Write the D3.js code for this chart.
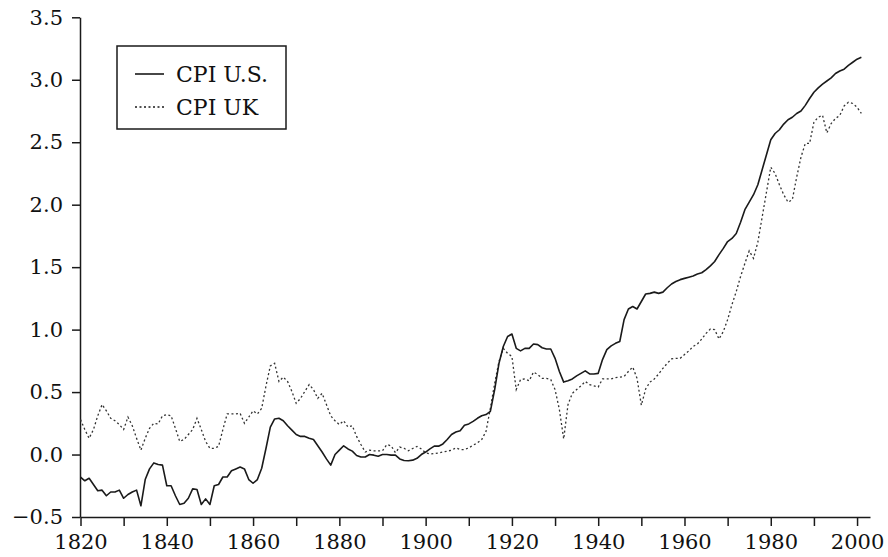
<!DOCTYPE html>
<html>
<head>
<meta charset="utf-8">
<script src="https://cdn.jsdelivr.net/npm/d3@7"></script>
<style>
  body { margin: 0; background: #fff; }
  .axis text { font-family: "DejaVu Serif", serif; font-size: 21px; fill: #111; }
  .axis path, .axis line { stroke: #1a1a1a; stroke-width: 1.5px; }
  .legendText { font-family: "DejaVu Serif", serif; font-size: 22px; fill: #111; }
</style>
</head>
<body>
<div id="chart"></div>
<script>
// CPI U.S. vs CPI UK (log scale), 1820-2001

var startYear = 1820;

// values, one per year starting 1820
var cpiUS = [
  -0.18, -0.21, -0.19, -0.24, -0.29, -0.285, -0.33, -0.30, -0.30, -0.285,
  -0.35, -0.32, -0.30, -0.285, -0.41, -0.20, -0.115, -0.067, -0.08, -0.085,
  -0.25, -0.25, -0.33, -0.40, -0.39, -0.35, -0.275, -0.28, -0.40, -0.355,
  -0.40, -0.25, -0.24, -0.18, -0.18, -0.13, -0.115, -0.10, -0.115, -0.20,
  -0.23, -0.20, -0.11, 0.05, 0.22, 0.285, 0.29, 0.27, 0.23, 0.195,
  0.16, 0.145, 0.145, 0.13, 0.12, 0.07, 0.02, -0.035, -0.085, 0.0,
  0.035, 0.07, 0.045, 0.027, -0.008, -0.02, -0.02, 0.0, -0.005, -0.013,
  0.0, 0.0, -0.005, -0.005, -0.035, -0.048, -0.05, -0.045, -0.03, 0.0,
  0.02, 0.045, 0.067, 0.067, 0.085, 0.12, 0.16, 0.18, 0.19, 0.235,
  0.245, 0.265, 0.29, 0.31, 0.32, 0.345, 0.52, 0.73, 0.865, 0.945,
  0.965, 0.85, 0.83, 0.85, 0.85, 0.885, 0.88, 0.855, 0.845, 0.845,
  0.77, 0.665, 0.58, 0.59, 0.605, 0.63, 0.65, 0.67, 0.645, 0.645,
  0.65, 0.76, 0.84, 0.87, 0.89, 0.905, 1.08, 1.165, 1.185, 1.165,
  1.225, 1.285, 1.29, 1.30, 1.29, 1.30, 1.335, 1.365, 1.385, 1.40,
  1.41, 1.42, 1.43, 1.445, 1.455, 1.48, 1.51, 1.545, 1.60, 1.65,
  1.705, 1.73, 1.77, 1.86, 1.96, 2.02, 2.08, 2.16, 2.28, 2.40,
  2.52, 2.57, 2.60, 2.645, 2.68, 2.70, 2.73, 2.75, 2.795, 2.85,
  2.90, 2.935, 2.965, 2.99, 3.015, 3.05, 3.07, 3.085, 3.115, 3.14,
  3.165, 3.18
];

var cpiUK = [
  0.28, 0.20, 0.13, 0.20, 0.31, 0.40, 0.35, 0.29, 0.27, 0.24,
  0.20, 0.30, 0.23, 0.13, 0.035, 0.13, 0.21, 0.25, 0.245, 0.31,
  0.32, 0.31, 0.21, 0.105, 0.12, 0.16, 0.20, 0.29, 0.20, 0.105,
  0.05, 0.05, 0.065, 0.20, 0.325, 0.325, 0.325, 0.33, 0.25, 0.30,
  0.35, 0.325, 0.37, 0.55, 0.71, 0.73, 0.585, 0.62, 0.585, 0.505,
  0.41, 0.45, 0.505, 0.56, 0.52, 0.45, 0.49, 0.40, 0.31, 0.27,
  0.24, 0.27, 0.22, 0.23, 0.145, 0.08, 0.02, 0.035, 0.03, 0.03,
  0.03, 0.08, 0.07, 0.015, 0.06, 0.05, 0.03, 0.048, 0.065, 0.045,
  0.013, 0.005, 0.008, 0.013, 0.02, 0.027, 0.035, 0.053, 0.04, 0.04,
  0.053, 0.075, 0.093, 0.12, 0.186, 0.37, 0.57, 0.745, 0.85, 0.81,
  0.785, 0.52, 0.60, 0.605, 0.59, 0.66, 0.64, 0.61, 0.61, 0.60,
  0.52, 0.36, 0.125, 0.40, 0.49, 0.52, 0.55, 0.585, 0.56, 0.55,
  0.54, 0.605, 0.605, 0.605, 0.615, 0.62, 0.625, 0.665, 0.70, 0.61,
  0.395, 0.525, 0.58, 0.605, 0.645, 0.69, 0.73, 0.765, 0.77, 0.77,
  0.80, 0.83, 0.865, 0.885, 0.925, 0.97, 1.005, 1.0, 0.925, 0.985,
  1.08, 1.20, 1.305, 1.425, 1.53, 1.63, 1.57, 1.70, 1.90, 2.10,
  2.30, 2.25, 2.16, 2.08, 2.02, 2.04, 2.22, 2.38, 2.49, 2.49,
  2.66, 2.70, 2.715, 2.575, 2.65, 2.69, 2.715, 2.79, 2.82, 2.81,
  2.78, 2.73
];

var seriesNames = ["CPI U.S.", "CPI UK"];
var xTickValues = d3.range(1820, 2001, 10);
var xLabelValues = d3.range(1820, 2001, 20);
var yTickValues = [-0.5, 0.0, 0.5, 1.0, 1.5, 2.0, 2.5, 3.0, 3.5];

// Set Chart Area
var svgWidth = 888;
var svgHeight = 557;

var svg = d3.select("#chart")
  .append("svg")
  .attr("width", svgWidth)
  .attr("height", svgHeight);

// scales
var xScale = d3.scaleLinear()
  .domain([1820, 2003])
  .range([80.5, 870]);

var yScale = d3.scaleLinear()
  .domain([-0.5, 3.5])
  .range([517, 17.3]);

// axes
var bottomAxis = d3.axisBottom(xScale)
  .tickValues(xTickValues)
  .tickSize(9)
  .tickSizeOuter(0)
  .tickPadding(8)
  .tickFormat(d => xLabelValues.indexOf(d) >= 0 ? d : "");

var leftAxis = d3.axisLeft(yScale)
  .tickValues(yTickValues)
  .tickSize(8)
  .tickSizeOuter(0)
  .tickPadding(9)
  .tickFormat(d3.format(".1f"));

svg.append("g")
  .attr("class", "axis")
  .attr("transform", "translate(0, 517)")
  .call(bottomAxis);

svg.append("g")
  .attr("class", "axis")
  .attr("transform", "translate(80, 0)")
  .call(leftAxis);

// lines
var line = d3.line()
  .x((d, i) => xScale(startYear + i))
  .y(d => yScale(d));

svg.append("path")
  .datum(cpiUK)
  .attr("d", line)
  .attr("fill", "none")
  .attr("stroke", "#333")
  .attr("stroke-width", 1.3)
  .attr("stroke-dasharray", "2,2.5");

svg.append("path")
  .datum(cpiUS)
  .attr("d", line)
  .attr("fill", "none")
  .attr("stroke", "#1a1a1a")
  .attr("stroke-width", 1.6)
  .attr("stroke-linejoin", "round");

// legend
var legend = svg.append("g");

legend.append("rect")
  .attr("x", 117)
  .attr("y", 46)
  .attr("width", 169)
  .attr("height", 83)
  .attr("fill", "#fff")
  .attr("stroke", "#1a1a1a")
  .attr("stroke-width", 1.5);

var legendDash = [null, "2,2.5"];

seriesNames.forEach(function(name, i) {
  var ly = 74 + i * 33;
  legend.append("line")
    .attr("x1", 135)
    .attr("x2", 164)
    .attr("y1", ly)
    .attr("y2", ly)
    .attr("stroke", "#1a1a1a")
    .attr("stroke-width", i == 0 ? 1.6 : 1.3)
    .attr("stroke-dasharray", legendDash[i]);

  legend.append("text")
    .attr("class", "legendText")
    .attr("x", 176)
    .attr("y", ly + 7.5)
    .text(name);
});
</script>
</body>
</html>
